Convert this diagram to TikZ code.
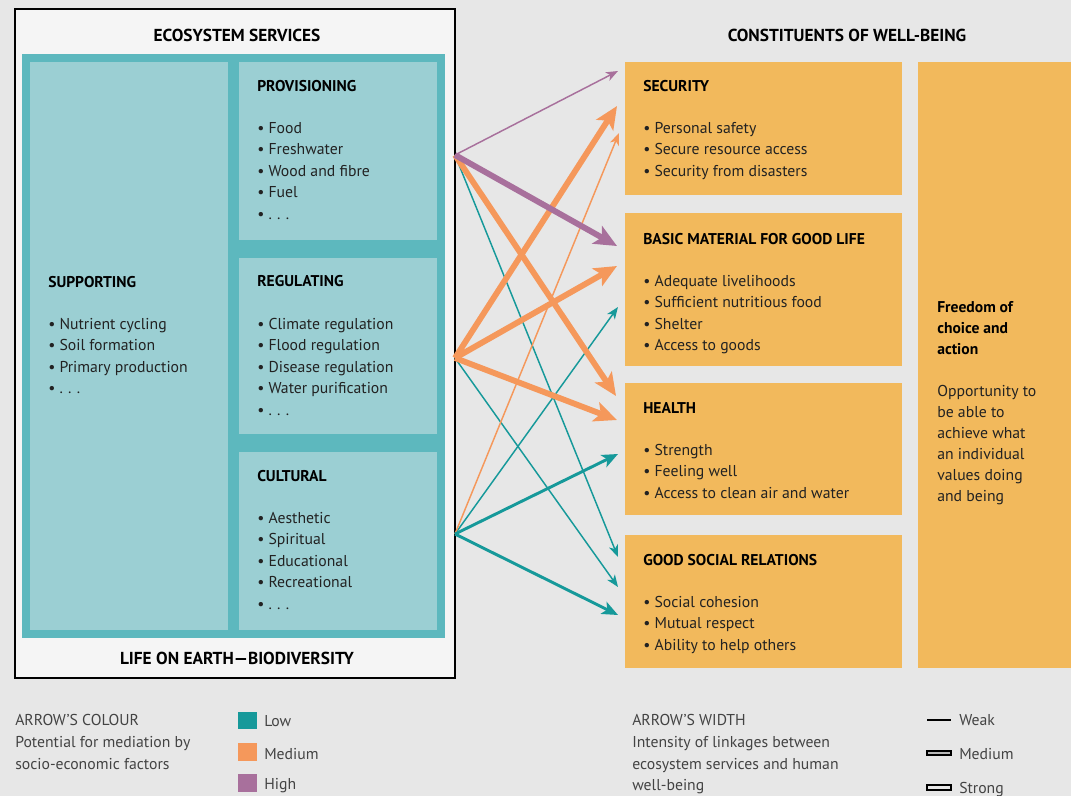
\documentclass[tikz,border=0pt]{standalone}
\usepackage{fontspec}
\setmainfont{PT Sans}
\usetikzlibrary{arrows.meta}

\definecolor{bgcol}{HTML}{E7E7E7}
\definecolor{boxcol}{HTML}{F5F5F5}
\definecolor{framecol}{HTML}{5DB8BE}
\definecolor{panelcol}{HTML}{9BCFD3}
\definecolor{wellcol}{HTML}{F2B95C}
\definecolor{lowcol}{HTML}{16999A}
\definecolor{medcol}{HTML}{F5985B}
\definecolor{highcol}{HTML}{A8709C}
\definecolor{textcol}{HTML}{222222}

% one bulleted list, one node per line
\newcommand{\bulletlist}[4]{%
  \foreach \t [count=\i] in {#4}
    \node[listitem] (#3-\i) at ({#1},{#2+21.5*(\i-1)}) {\textbullet\ \t};}

\begin{document}
\begin{tikzpicture}[x=0.75pt,y=-0.75pt,
    sectitle/.style={anchor=base, inner sep=0pt, font=\bfseries\fontsize{13}{15}\selectfont},
    boxhead/.style={anchor=base west, inner sep=0pt, font=\bfseries\fontsize{11.7}{13}\selectfont},
    listitem/.style={anchor=base west, inner sep=0pt, text=textcol, font=\fontsize{11.8}{13}\selectfont},
    legendtext/.style={anchor=base west, inner sep=0pt, text=textcol!85, font=\fontsize{11.8}{13}\selectfont},
    weaklink/.style={line width=1.1pt, -{Stealth[length=9pt,width=7pt,inset=2.5pt]}},
    mediumlink/.style={line width=2.2pt, -{Stealth[length=12pt,width=10pt,inset=3pt]}},
    stronglink/.style={line width=4.4pt, -{Stealth[length=17pt,width=15pt,inset=4pt]}}]

    % Page and background
    \useasboundingbox (0,0) rectangle (1071,796);
    \fill[bgcol] (0,0) rectangle (1071,796);

    % Ecosystem services box
    \filldraw[fill=boxcol, draw=black, line width=1pt] (15,9) rectangle (455,678);
    \fill[framecol] (22,54) rectangle (445,638);
    \fill[panelcol] (30,62) rectangle (228,630); % supporting
    \fill[panelcol] (239,62) rectangle (437,240); % provisioning
    \fill[panelcol] (239,258) rectangle (437,434); % regulating
    \fill[panelcol] (239,452) rectangle (437,630); % cultural
    \node[sectitle] (es) at (237,41) {ECOSYSTEM SERVICES};
    \node[sectitle] (life) at (237,664) {LIFE ON EARTH—BIODIVERSITY};

    \node[boxhead] (supp) at (48,287) {SUPPORTING};
    \bulletlist{48}{329}{supp}{Nutrient cycling, Soil formation, Primary production, .\,\,.\,\,.}
    \node[boxhead] (provh) at (257,91) {PROVISIONING};
    \bulletlist{257}{133}{provl}{Food, Freshwater, Wood and fibre, Fuel, .\,\,.\,\,.}
    \node[boxhead] (regh) at (257,286) {REGULATING};
    \bulletlist{257}{329}{regl}{Climate regulation, Flood regulation, Disease regulation, Water purification, .\,\,.\,\,.}
    \node[boxhead] (culth) at (257,481) {CULTURAL};
    \bulletlist{257}{523}{cultl}{Aesthetic, Spiritual, Educational, Recreational, .\,\,.\,\,.}

    % Constituents of well-being
    \node[sectitle] (cw) at (847,41) {CONSTITUENTS OF WELL-BEING};
    \fill[wellcol] (625,62) rectangle (902,195); % security
    \fill[wellcol] (625,213) rectangle (902,366); % basic material
    \fill[wellcol] (625,383) rectangle (902,515); % health
    \fill[wellcol] (625,535) rectangle (902,668); % social relations
    \fill[wellcol] (918,62) rectangle (1071,668); % freedom

    \node[boxhead] (sech) at (643,91) {SECURITY};
    \bulletlist{643}{133}{secl}{Personal safety, Secure resource access, Security from disasters}
    \node[boxhead] (math) at (643,244) {BASIC MATERIAL FOR GOOD LIFE};
    \bulletlist{643}{286}{matl}{Adequate livelihoods, Sufficient nutritious food, Shelter, Access to goods}
    \node[boxhead] (heah) at (643,413) {HEALTH};
    \bulletlist{643}{455}{heal}{Strength, Feeling well, Access to clean air and water}
    \node[boxhead] (soch) at (643,565) {GOOD SOCIAL RELATIONS};
    \bulletlist{643}{607}{socl}{Social cohesion, Mutual respect, Ability to help others}

    \foreach \t [count=\i] in {Freedom of, choice and, action}
      \node[boxhead] (free-\i) at (937,{312+21*(\i-1)}) {\t};
    \foreach \t [count=\i] in {Opportunity to, be able to, achieve what, an individual, values doing, and being}
      \node[listitem] (opp-\i) at (937,{396+21*(\i-1)}) {\t};

    % Arrow start and end points
    \coordinate (prov) at (455,155);
    \coordinate (reg) at (455,358);
    \coordinate (cult) at (455,534);
    \coordinate (sec1) at (618,71);
    \coordinate (sec2) at (617,106);
    \coordinate (sec3) at (619,133);
    \coordinate (mat1) at (617,246);
    \coordinate (mat2) at (617,266);
    \coordinate (mat3) at (618,307);
    \coordinate (hea1) at (616,396);
    \coordinate (hea2) at (617,420);
    \coordinate (hea3) at (618,454);
    \coordinate (soc1) at (618,557);
    \coordinate (soc2) at (618,587);
    \coordinate (soc3) at (618,615);

    % Weak links
    \draw[weaklink, lowcol] (prov) -- (soc1);
    \draw[weaklink, lowcol] (reg) -- (soc2);
    \draw[weaklink, lowcol] (cult) -- (mat3);
    \draw[weaklink, medcol] (cult) -- (sec3);
    \draw[weaklink, highcol] (prov) -- (sec1);

    % Medium links
    \draw[mediumlink, lowcol] (cult) -- (hea3);
    \draw[mediumlink, lowcol] (cult) -- (soc3);

    % Strong links
    \draw[stronglink, medcol] (prov) -- (hea1);
    \draw[stronglink, medcol] (reg) -- (sec2);
    \draw[stronglink, medcol] (reg) -- (mat2);
    \draw[stronglink, medcol] (reg) -- (hea2);
    \draw[stronglink, highcol] (prov) -- (mat1);

    % Legend: colour
    \node[legendtext] (lc1) at (15,725) {ARROW'S COLOUR};
    \node[legendtext] (lc2) at (15,747) {Potential for mediation by};
    \node[legendtext] (lc3) at (15,769) {socio-economic factors};
    \fill[lowcol] (238,712) rectangle (257,729);
    \fill[medcol] (238,743) rectangle (257,761);
    \fill[highcol] (238,774) rectangle (257,792);
    \node[legendtext] (low) at (264,726) {Low};
    \node[legendtext] (med) at (264,759) {Medium};
    \node[legendtext] (high) at (264,789) {High};

    % Legend: width
    \node[legendtext] (lw1) at (632,725) {ARROW'S WIDTH};
    \node[legendtext] (lw2) at (632,747) {Intensity of linkages between};
    \node[legendtext] (lw3) at (632,769) {ecosystem services and human};
    \node[legendtext] (lw4) at (632,790) {well-being};
    \draw[line width=2pt] (927,720) -- (951,720);
    \filldraw[fill=bgcol!80!black, line width=0.8pt] (927,751) rectangle (951,755);
    \filldraw[fill=bgcol, line width=0.8pt] (927,785) rectangle (951,790);
    \node[legendtext] (weak) at (959,725) {Weak};
    \node[legendtext] (medium) at (959,759) {Medium};
    \node[legendtext] (strong) at (959,793) {Strong};
\end{tikzpicture}
\end{document}
